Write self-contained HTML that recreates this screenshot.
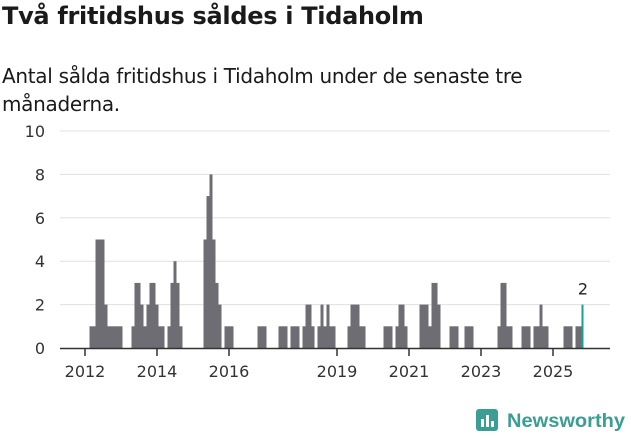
<!DOCTYPE html>
<html><head><meta charset="utf-8">
<style>
body{margin:0;background:#fff;width:631px;height:439px;overflow:hidden;font-family:"Liberation Sans","DejaVu Sans",sans-serif;}
#title{position:absolute;left:2px;top:2px;font-size:24px;font-weight:bold;color:#1a1a1a;font-family:"DejaVu Sans","Liberation Sans",sans-serif;letter-spacing:-0.3px}
#sub{position:absolute;left:2px;top:62px;font-size:20px;line-height:28px;color:#1a1a1a;width:600px;font-family:"DejaVu Sans","Liberation Sans",sans-serif;letter-spacing:-0.3px}
svg{position:absolute;left:0;top:0}
</style></head><body>
<div id="title">Två fritidshus såldes i Tidaholm</div>
<div id="sub">Antal sålda fritidshus i Tidaholm under de senaste tre månaderna.</div>
<svg id="chart" width="631" height="439"></svg>
<script>
const values = [
0,0,1,1,5,5,5,2,1,1,1,1,
1,0,0,0,1,3,3,2,1,2,3,3,
2,1,1,0,1,3,4,3,1,0,0,0,
0,0,0,0,5,7,8,5,3,2,0,1,
1,1,0,0,0,0,0,0,0,0,1,1,
1,0,0,0,0,1,1,1,0,1,1,1,
0,1,2,2,1,0,1,2,1,2,1,1,
0,0,0,0,1,2,2,2,1,1,0,0,
0,0,0,0,1,1,1,0,1,2,2,1,
0,0,0,0,2,2,2,1,3,3,2,0,
0,0,1,1,1,0,0,1,1,1,0,0,
0,0,0,0,0,0,1,3,3,1,1,0,
0,0,1,1,1,0,1,1,2,1,1,0,
0,0,0,0,1,1,1,0,1,1,2];
const startYear = 2012;
const yTicks = [0,2,4,6,8,10];
const xTickYears = [2012,2014,2016,2019,2021,2023,2025];

const NS='http://www.w3.org/2000/svg';
const svg=document.getElementById('chart');
const x0=85, mw=3, left=60, right=610;
const yS=v=>348-v*21.7;
const xS=m=>x0+m*mw;
function mk(t,a){const e=document.createElementNS(NS,t);for(const k in a)e.setAttribute(k,a[k]);svg.appendChild(e);return e;}
yTicks.forEach(v=>{
  if(v>0){const g=mk('line',{x1:left,x2:right,y1:yS(v),y2:yS(v),stroke:'#e0e0e0','stroke-width':1});
  
  }
  const t=mk('text',{x:45,y:yS(v)+6,'text-anchor':'end','font-size':16,fill:'#333','font-family':'DejaVu Sans, Liberation Sans, sans-serif'});
  t.textContent=v;
  
  
});
values.forEach((v,i)=>{
  if(!v)return;
  const last=i===values.length-1;
  const r=mk('rect',{x:xS(i)-mw/2,y:yS(v),width:last?2:mw,height:yS(0)-yS(v),fill:last?'#1a9e96':'#6e6d73'});
  
  
  if(last){const t=mk('text',{x:xS(i),y:yS(v)-10,'text-anchor':'middle','font-size':16,fill:'#222','font-family':'DejaVu Sans, Liberation Sans, sans-serif'});t.textContent=v;
  
  }
});
const ax=mk('line',{x1:left,x2:right,y1:348.5,y2:348.5,stroke:'#333','stroke-width':1.5});


xTickYears.forEach(y=>{
  const x=xS((y-startYear)*12);
  const tk=mk('line',{x1:x,x2:x,y1:349,y2:356,stroke:'#333','stroke-width':1.5});
  
  
  const t=mk('text',{x:x,y:377,'text-anchor':'middle','font-size':16,fill:'#333','font-family':'DejaVu Sans, Liberation Sans, sans-serif'});
  t.textContent=y;
  
  
});
</script>
<svg width="631" height="439">
<rect x="476" y="409" width="22" height="22" rx="3" fill="#3a9e94"/>
<rect x="481" y="419" width="3" height="8" fill="#fff"/><rect x="486" y="415" width="3" height="12" fill="#fff"/><rect x="491" y="421" width="3" height="6" fill="#fff"/>
<text x="507" y="427" font-size="19" font-weight="bold" fill="#3a9e94" font-family="Liberation Sans, DejaVu Sans, sans-serif" textLength="118" lengthAdjust="spacingAndGlyphs">Newsworthy</text>
</svg>
</body></html>
